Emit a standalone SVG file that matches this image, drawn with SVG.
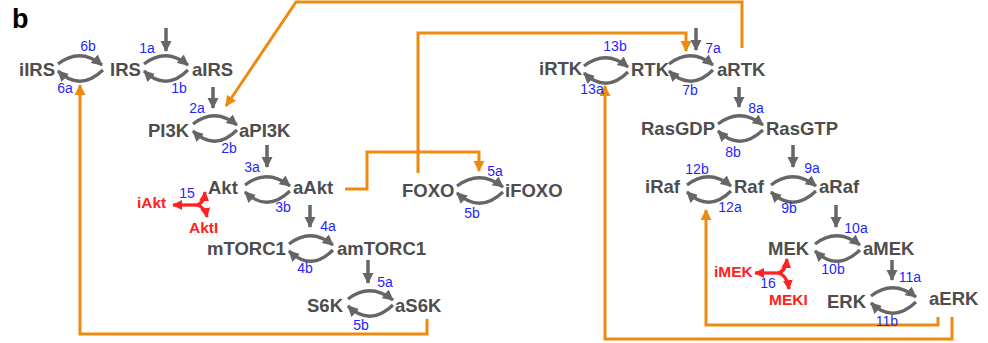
<svg xmlns="http://www.w3.org/2000/svg" width="988" height="343" viewBox="0 0 988 343">
<defs>
<marker id="ga" markerUnits="userSpaceOnUse" markerWidth="14" markerHeight="14" refX="10" refY="5.5" orient="auto"><path d="M0,0 L11,5.5 L0,11 Z" fill="#666"/></marker>
<marker id="oa" markerUnits="userSpaceOnUse" markerWidth="14" markerHeight="14" refX="10" refY="5.5" orient="auto"><path d="M0,0 L11,5.5 L0,11 Z" fill="#EE8A0E"/></marker>
<marker id="ra" markerUnits="userSpaceOnUse" markerWidth="14" markerHeight="14" refX="9" refY="5" orient="auto"><path d="M0,0 L10,5 L0,10 Z" fill="#ff2222"/></marker>
</defs>
<style>
.n{font-family:"Liberation Sans",Arial,sans-serif;font-weight:bold;font-size:18.5px;fill:#4d4d4d}
.l{font-family:"Liberation Sans",Arial,sans-serif;font-size:14px;fill:#1f1fff;text-anchor:middle}
.r{font-family:"Liberation Sans",Arial,sans-serif;font-weight:bold;font-size:15.5px;fill:#ff2222}
.g{fill:none;stroke:#666;stroke-width:3.2;marker-end:url(#ga)}
.v{fill:none;stroke:#666;stroke-width:3.5;marker-end:url(#ga)}
.o{fill:none;stroke:#EE8A0E;stroke-width:3;stroke-linejoin:miter}
.oa{marker-end:url(#oa)}
.rd{fill:none;stroke:#ff2222;stroke-width:3.3;marker-end:url(#ra)}
</style>
<rect width="988" height="343" fill="#fff"/>
<text x="12" y="28" font-family="Liberation Sans,Arial,sans-serif" font-weight="bold" font-size="27" fill="#000">b</text>

<g id="connectors">
<path class="o oa" d="M742,48 V2 H296 L226,106"/>
<path class="o oa" d="M418,173 V33 H686 V51"/>
<path class="o oa" d="M345,189 H367 V152 H479 V171"/>
<path class="o oa" d="M427,319 V334 H80 V85"/>
<path class="o oa" d="M938,317 V325 H706 V210"/>
<path class="o oa" d="M952,317 V339 H605 V86"/>
<path class="v" d="M166,28 V51"/>
<path class="v" d="M213,87 V108"/>
<path class="v" d="M267,145 V167"/>
<path class="v" d="M310,205 V227"/>
<path class="v" d="M368,260 V283"/>
<path class="v" d="M696,28 V50"/>
<path class="v" d="M739,87 V107"/>
<path class="v" d="M793,145 V167"/>
<path class="v" d="M836,205 V227"/>
<path class="v" d="M892,260 V280"/>
<path class="g" d="M58,64 Q80,47 102,65"/><path class="g" d="M103,70 Q80,92 58,71"/>
<path class="g" d="M144,64 Q166,47 188,65"/><path class="g" d="M188,70 Q166,92 144,71"/>
<path class="g" d="M193,124 Q215,107 237,125"/><path class="g" d="M237,130 Q215,152 193,131"/>
<path class="g" d="M245,185 Q267,168 290,186"/><path class="g" d="M290,191 Q267,213 245,192"/>
<path class="g" d="M289,244 Q311,227 333,245"/><path class="g" d="M333,250 Q311,272 289,251"/>
<path class="g" d="M348,299 Q370,282 393,300"/><path class="g" d="M393,305 Q370,327 348,306"/>
<path class="g" d="M457,186 Q480,169 503,187"/><path class="g" d="M503,192 Q480,214 457,193"/>
<path class="g" d="M584,66 Q606,49 628,67"/><path class="g" d="M628,72 Q606,94 584,73"/>
<path class="g" d="M669,64 Q691,47 713,65"/><path class="g" d="M713,70 Q691,92 669,71"/>
<path class="g" d="M718,124 Q740,107 763,125"/><path class="g" d="M763,130 Q740,152 718,131"/>
<path class="g" d="M687,185 Q709,168 731,186"/><path class="g" d="M731,191 Q709,213 687,192"/>
<path class="g" d="M771,185 Q793,168 816,186"/><path class="g" d="M816,191 Q793,213 771,192"/>
<path class="g" d="M815,244 Q837,227 860,245"/><path class="g" d="M860,250 Q837,272 815,251"/>
<path class="g" d="M871,296 Q893,279 916,297"/><path class="g" d="M916,302 Q893,324 871,303"/>
<path class="rd" d="M197,205 H173"/>
<path class="rd" d="M197,205 Q204,203 205,192"/>
<path class="rd" d="M197,205 Q205,207 207,217"/>
<path class="rd" d="M778,273 H755"/>
<path class="rd" d="M778,273 Q786,271 787,259"/>
<path class="rd" d="M778,273 Q787,275 789,289"/>
</g>

<g id="iIRS"><text class="n" x="19" y="76">iIRS</text></g>
<g id="IRS"><text class="n" x="110" y="76">IRS</text></g>
<g id="aIRS"><text class="n" x="192" y="76">aIRS</text></g>
<g id="PI3K"><text class="n" x="148" y="137">PI3K</text></g>
<g id="aPI3K"><text class="n" x="239" y="137">aPI3K</text></g>
<g id="Akt"><text class="n" x="208" y="194">Akt</text></g>
<g id="aAkt"><text class="n" x="293" y="194">aAkt</text></g>
<g id="mTORC1"><text class="n" x="207" y="255">mTORC1</text></g>
<g id="amTORC1"><text class="n" x="337" y="255">amTORC1</text></g>
<g id="S6K"><text class="n" x="307" y="312">S6K</text></g>
<g id="aS6K"><text class="n" x="395" y="312">aS6K</text></g>
<g id="FOXO"><text class="n" x="402" y="197">FOXO</text></g>
<g id="iFOXO"><text class="n" x="505" y="197">iFOXO</text></g>
<g id="iRTK"><text class="n" x="539" y="75">iRTK</text></g>
<g id="RTK"><text class="n" x="631" y="76">RTK</text></g>
<g id="aRTK"><text class="n" x="717" y="76">aRTK</text></g>
<g id="RasGDP"><text class="n" x="641" y="135">RasGDP</text></g>
<g id="RasGTP"><text class="n" x="766" y="135">RasGTP</text></g>
<g id="iRaf"><text class="n" x="645" y="193">iRaf</text></g>
<g id="Raf"><text class="n" x="734" y="193">Raf</text></g>
<g id="aRaf"><text class="n" x="819" y="193">aRaf</text></g>
<g id="MEK"><text class="n" x="768" y="255">MEK</text></g>
<g id="aMEK"><text class="n" x="863" y="255">aMEK</text></g>
<g id="ERK"><text class="n" x="827" y="308">ERK</text></g>
<g id="aERK"><text class="n" x="929" y="305">aERK</text></g>
<g id="iAkt"><text class="r" x="137" y="208">iAkt</text></g>
<g id="AktI"><text class="r" x="189" y="233">AktI</text></g>
<g id="iMEK"><text class="r" x="714" y="277">iMEK</text></g>
<g id="MEKI"><text class="r" x="769" y="305">MEKI</text></g>

<g id="labels">
<text class="l" x="88" y="51">6b</text>
<text class="l" x="65" y="93">6a</text>
<text class="l" x="147" y="53">1a</text>
<text class="l" x="179" y="93">1b</text>
<text class="l" x="197" y="113">2a</text>
<text class="l" x="229" y="153">2b</text>
<text class="l" x="252" y="172">3a</text>
<text class="l" x="283" y="212">3b</text>
<text class="l" x="328" y="231">4a</text>
<text class="l" x="305" y="273">4b</text>
<text class="l" x="385" y="287">5a</text>
<text class="l" x="361" y="330">5b</text>
<text class="l" x="187" y="198">15</text>
<text class="l" x="495" y="176">5a</text>
<text class="l" x="472" y="218">5b</text>
<text class="l" x="615" y="51">13b</text>
<text class="l" x="592" y="94">13a</text>
<text class="l" x="713" y="53">7a</text>
<text class="l" x="690" y="95">7b</text>
<text class="l" x="756" y="113">8a</text>
<text class="l" x="733" y="157">8b</text>
<text class="l" x="697" y="174">12b</text>
<text class="l" x="730" y="212">12a</text>
<text class="l" x="812" y="173">9a</text>
<text class="l" x="789" y="213">9b</text>
<text class="l" x="856" y="233">10a</text>
<text class="l" x="833" y="274">10b</text>
<text class="l" x="910" y="282">11a</text>
<text class="l" x="887" y="326">11b</text>
<text class="l" x="768" y="288">16</text>
</g>
</svg>
